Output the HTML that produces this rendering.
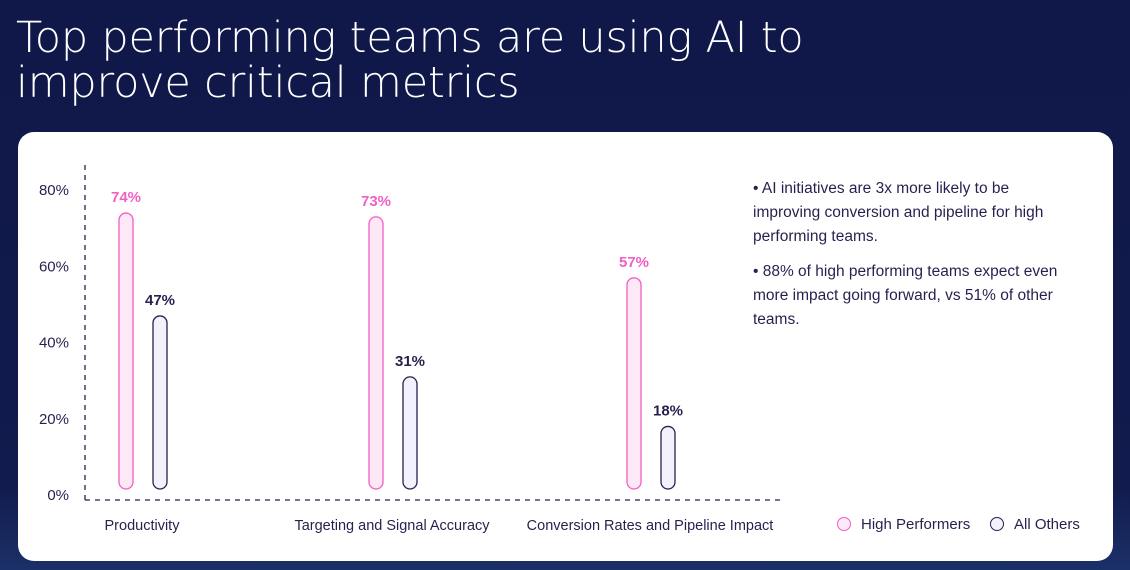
<!DOCTYPE html>
<html><head><meta charset="utf-8"><style>
body{margin:0;width:1130px;height:570px;overflow:hidden;background:linear-gradient(180deg,#0f1848 0%,#111b4d 85%,#1b3068 100%);font-family:"Liberation Sans",sans-serif;position:relative}
h1{position:absolute;left:16px;top:16px;margin:0;color:#fff;font-size:43px;line-height:45px;letter-spacing:-0.2px;font-family:"DejaVu Sans","Liberation Sans",sans-serif;font-weight:200}
#card{position:absolute;left:18px;top:132px;width:1095px;height:429px;background:#fff;border-radius:16px}
.t{position:absolute;color:#2a1f4d;font-size:15px}
</style></head><body>
<h1>Top performing teams are using AI to<br>improve critical metrics</h1>
<div id="card"></div>
<svg id="chart" width="1130" height="570" style="position:absolute;left:0;top:0"></svg>
<div class="t" style="left:753px;top:177px;width:315px;line-height:24px;font-size:15.5px">• AI initiatives are 3x more likely to be improving conversion and pipeline for high performing teams.</div>
<div class="t" style="left:753px;top:260px;width:315px;line-height:24px;font-size:15.5px">• 88% of high performing teams expect even more impact going forward, vs 51% of other teams.</div>
<div>
<div style="position:absolute;left:837px;top:517px;width:12px;height:12px;border:1.5px solid #f25fc4;border-radius:50%;background:#fde9f6"></div>
<div class="t" style="left:861px;top:516px">High Performers</div>
<div style="position:absolute;left:990px;top:517px;width:12px;height:12px;border:1.5px solid #2a1f4d;border-radius:50%;background:#f3f1fb"></div>
<div class="t" style="left:1014px;top:516px">All Others</div>
</div>
<script>
const categories=["Productivity","Targeting and Signal Accuracy","Conversion Rates and Pipeline Impact"];
const highPerformers=[74,73,57];
const allOthers=[47,31,18];
const yTicks=[0,20,40,60,80];
const NS="http://www.w3.org/2000/svg";
const svg=document.getElementById('chart');
const y=v=>495-v*3.81;
const cx=i=>142+i*254-(i===1?4:0);
function mk(tag,attrs,txt){const e=document.createElementNS(NS,tag);for(const k in attrs)e.setAttribute(k,attrs[k]);if(txt!=null)e.textContent=txt;svg.appendChild(e);return e;}
let a=mk('line',{x1:85,y1:165,x2:85,y2:500,stroke:'#2a1f4d','stroke-dasharray':'5,5','stroke-width':1.3});


a=mk('line',{x1:85,y1:500,x2:780,y2:500,stroke:'#2a1f4d','stroke-dasharray':'5,5','stroke-width':1.3});


yTicks.forEach(v=>{const t=mk('text',{x:69,y:y(v)+5,'text-anchor':'end','font-size':15,fill:'#2a1f4d','font-family':'Liberation Sans'},v+'%');

});
categories.forEach((c,i)=>{
 const t=mk('text',{x:cx(i),y:530,'text-anchor':'middle','font-size':14.5,fill:'#2a1f4d','font-family':'Liberation Sans'},c);
 
 
 [[highPerformers[i],-16,'#f25fc4','#fde9f6','#f25fc4','high'],[allOthers[i],18,'#2a1f4d','#f3f1fb','#2a1f4d','others']].forEach(([v,dx,st,fl,tc,n])=>{
  const top=y(v),bx=cx(i)+dx-7;
  const r=mk('rect',{x:bx,y:top,width:14,height:489-top,rx:7,fill:fl,stroke:st,'stroke-width':1.3});
  
  
  const l=mk('text',{x:bx+7,y:top-11,'text-anchor':'middle','font-size':15,'font-weight':'bold',fill:tc,'font-family':'Liberation Sans'},v+'%');
  
  
 });
});
</script>
</body></html>
